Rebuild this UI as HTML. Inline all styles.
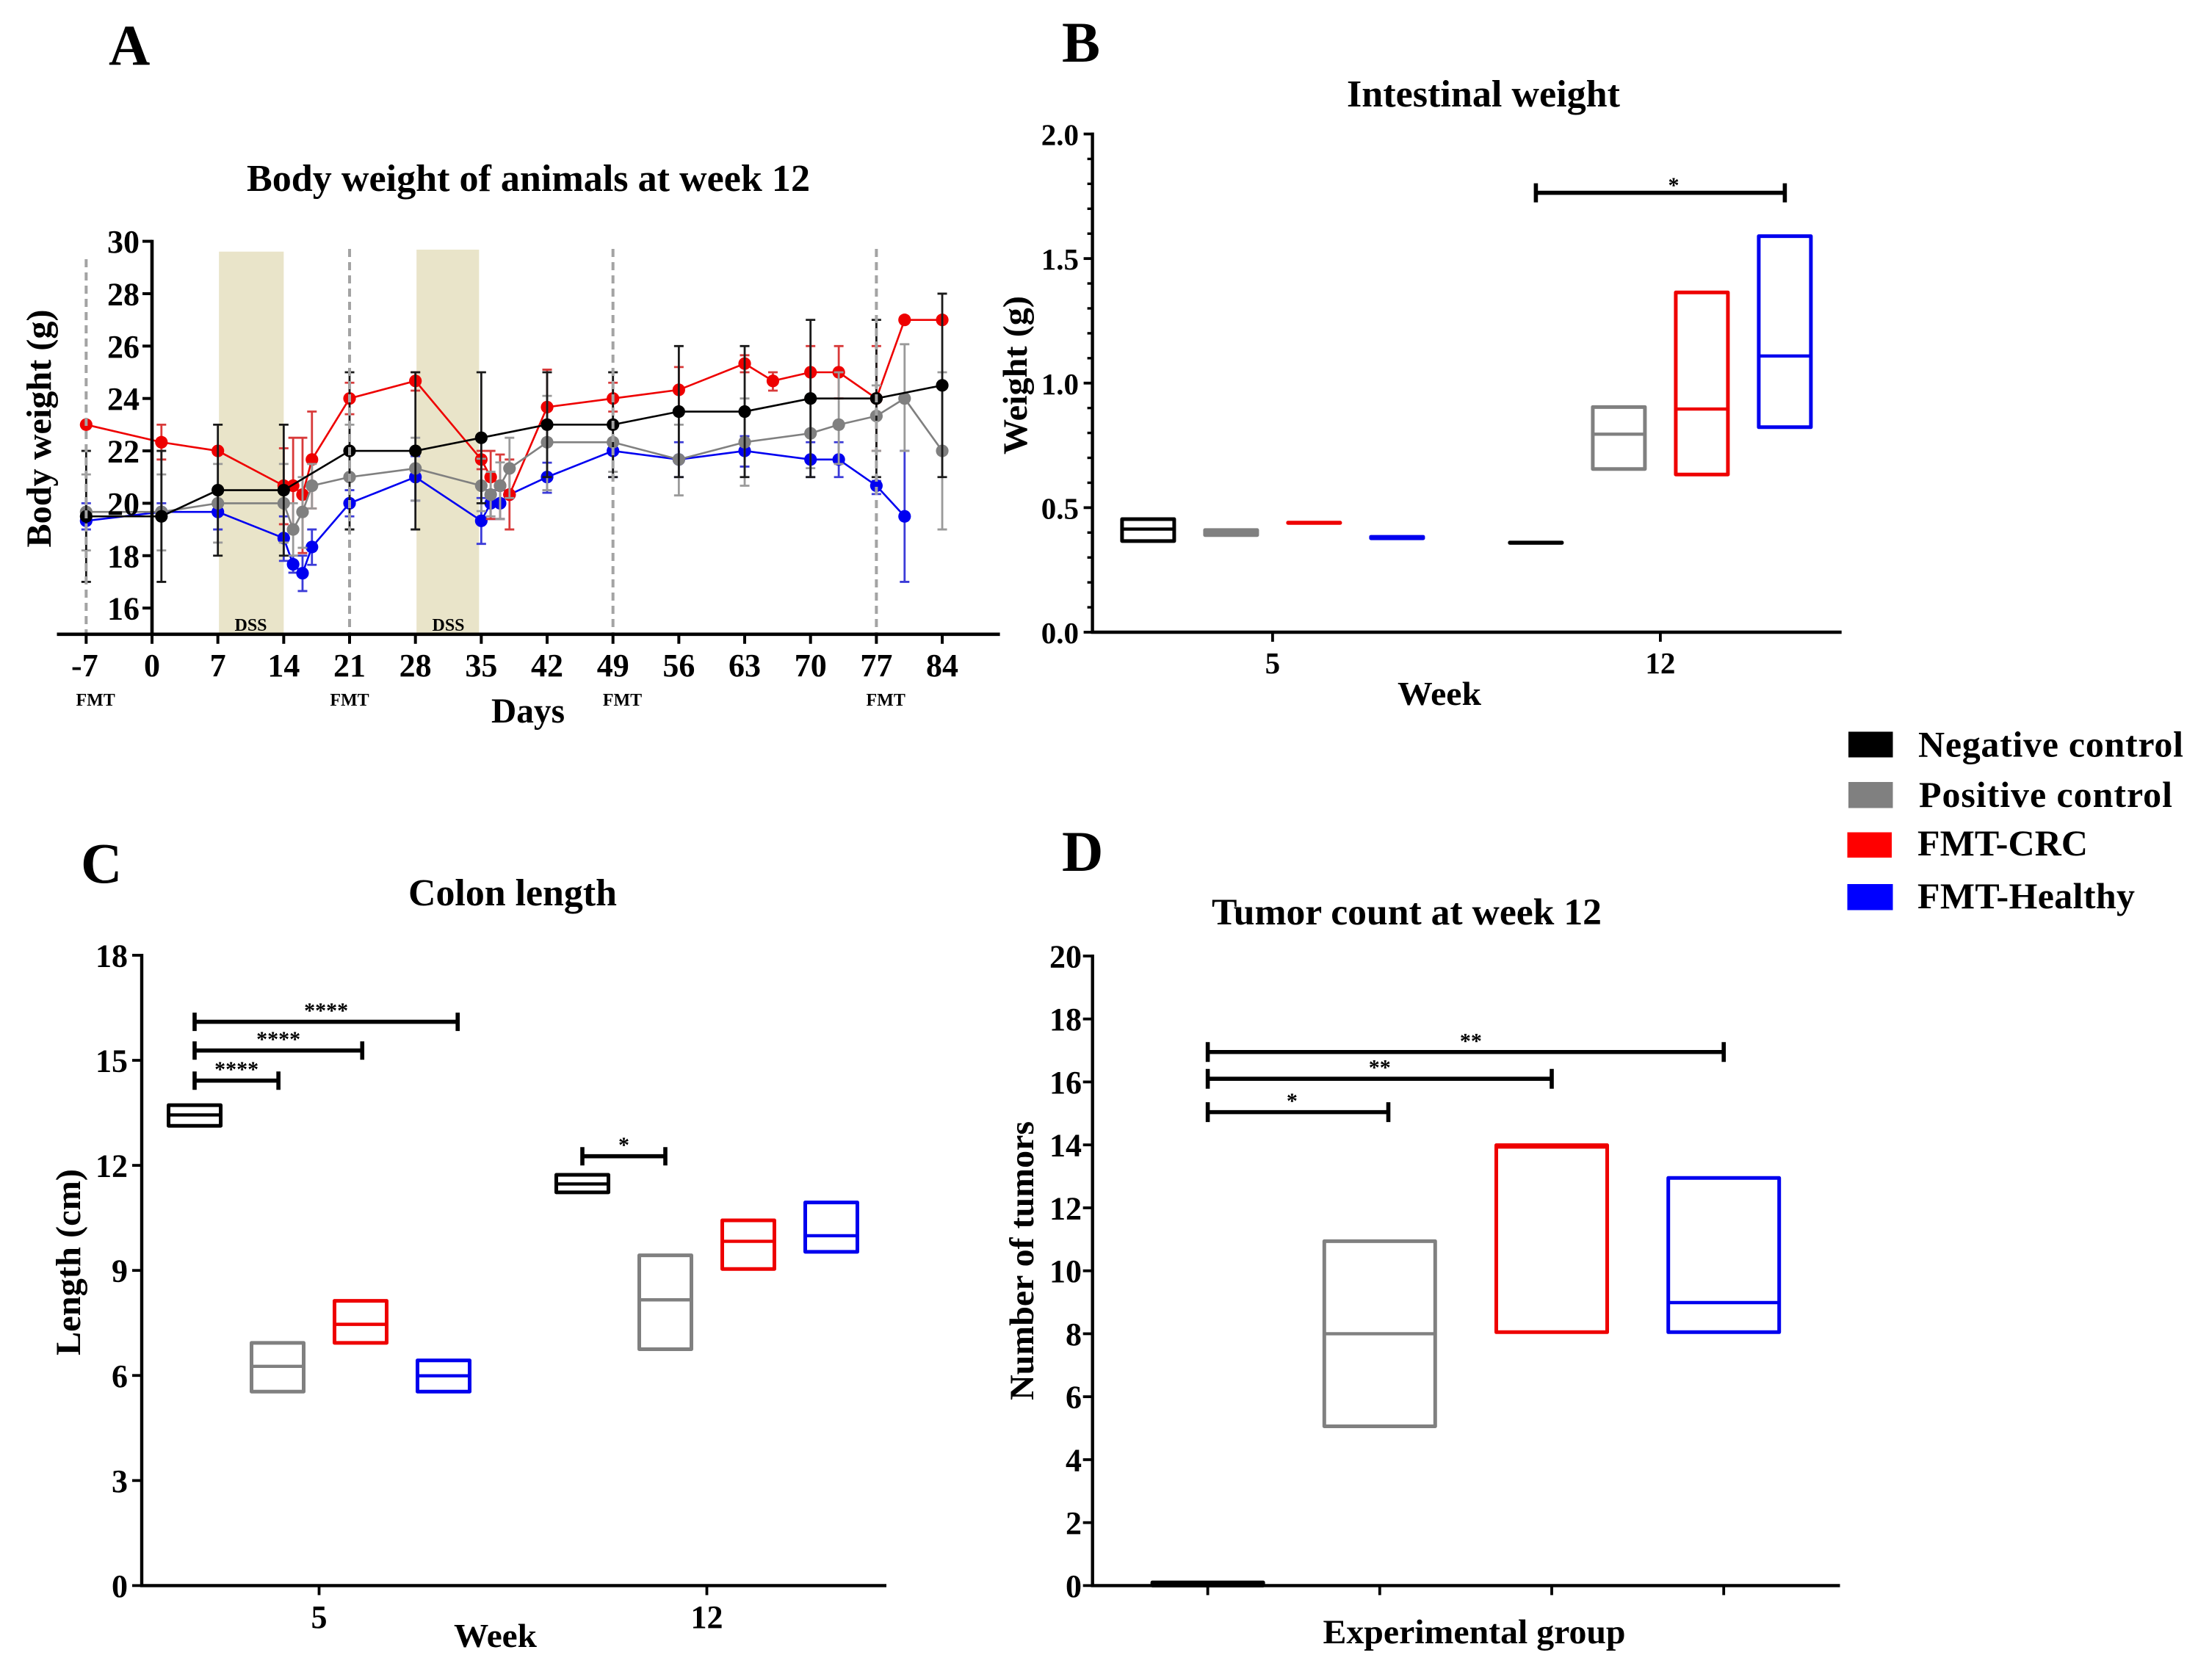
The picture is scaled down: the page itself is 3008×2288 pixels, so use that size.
<!DOCTYPE html>
<html lang="en">
<head>
<meta charset="utf-8">
<title>Body weight, intestinal weight, colon length and tumor count</title>
<style>
html,body{margin:0;padding:0;background:#fff;}
svg{display:block;font-family:"Liberation Serif","Times New Roman",serif;font-weight:bold;fill:#000;}
</style>
</head>
<body>
<svg id="figure" xmlns="http://www.w3.org/2000/svg" width="3008" height="2288" viewBox="0 0 3008 2288">
  <rect x="0" y="0" width="3008" height="2288" fill="#ffffff"/>

  <text x="148" y="88" font-size="78">A</text>
  <text x="1446" y="84" font-size="78">B</text>
  <text x="110" y="1202" font-size="78">C</text>
  <text x="1446" y="1186" font-size="78">D</text>

  <text x="336" y="260" font-size="52" textLength="767" lengthAdjust="spacingAndGlyphs">Body weight of animals at week 12</text>
  <text x="1834" y="145" font-size="52" textLength="372" lengthAdjust="spacingAndGlyphs">Intestinal weight</text>
  <text x="556" y="1233" font-size="52" textLength="284" lengthAdjust="spacingAndGlyphs">Colon length</text>
  <text x="1650" y="1259" font-size="51" textLength="531" lengthAdjust="spacingAndGlyphs">Tumor count at week 12</text>

  <g id="panel-a"></g>
  <g id="panel-b"></g>
  <g id="panel-c"></g>
  <g id="panel-d"></g>

  <text transform="translate(69,583.5) rotate(-90)" text-anchor="middle" font-size="48" textLength="324" lengthAdjust="spacingAndGlyphs">Body weight (g)</text>
  <text x="669" y="984" font-size="48" textLength="100" lengthAdjust="spacingAndGlyphs">Days</text>

  <text transform="translate(1398,511) rotate(-90)" text-anchor="middle" font-size="47" textLength="216" lengthAdjust="spacingAndGlyphs">Weight (g)</text>
  <text x="1903" y="960" font-size="46" textLength="114" lengthAdjust="spacingAndGlyphs">Week</text>

  <text transform="translate(109,1719) rotate(-90)" text-anchor="middle" font-size="48" textLength="254" lengthAdjust="spacingAndGlyphs">Length (cm)</text>
  <text x="618" y="2243" font-size="46" textLength="113" lengthAdjust="spacingAndGlyphs">Week</text>

  <text transform="translate(1407,1717) rotate(-90)" text-anchor="middle" font-size="47" textLength="380" lengthAdjust="spacingAndGlyphs">Number of tumors</text>
  <text x="1801.5" y="2238" font-size="47" textLength="412" lengthAdjust="spacingAndGlyphs">Experimental group</text>

  <g>
    <g>
      <rect x="2517" y="996.5" width="60.5" height="35" fill="#000000"/>
      <text x="2612" y="1030.5" font-size="50" textLength="361" lengthAdjust="spacing">Negative control</text>
    </g>
    <g>
      <rect x="2517" y="1065" width="60.5" height="35.5" fill="#808080"/>
      <text x="2613" y="1099" font-size="50" textLength="345" lengthAdjust="spacing">Positive control</text>
    </g>
    <g>
      <rect x="2515.5" y="1133.5" width="60.5" height="34.5" fill="#ff0000"/>
      <text x="2611" y="1165" font-size="50" textLength="232" lengthAdjust="spacing">FMT-CRC</text>
    </g>
    <g>
      <rect x="2515.5" y="1204" width="62" height="35.5" fill="#0000ff"/>
      <text x="2611" y="1237" font-size="50" textLength="296" lengthAdjust="spacing">FMT-Healthy</text>
    </g>
  </g>
</svg>

<script>
/* ---------- Panel A data ---------- */
const aXTicks = [-7, 0, 7, 14, 21, 28, 35, 42, 49, 56, 63, 70, 77, 84];
const aYTicks = [16, 18, 20, 22, 24, 26, 28, 30];
const aFmtDays = [-7, 21, 49, 77];
const aFmtLabelDays = [-6, 21, 50, 78];
const aDssStart = [7, 28];
const aDssEnd = [14, 35];

const healthyDays = [-7, 1, 7, 14, 15, 16, 17, 21, 28, 35, 36, 37, 38, 42, 49, 56, 63, 70, 73, 77, 80];
const healthyMean = [19.33, 19.67, 19.67, 18.67, 17.67, 17.33, 18.33, 20, 21, 19.33, 20, 20, 20.33, 21, 22, 21.67, 22, 21.67, 21.67, 20.67, 19.5];
const healthyLow  = [19, 19.4, 19, 17.8, 17.35, 16.65, 17.65, 19.5, 20.1, 18.45, 19.4, 19.4, 20.33, 20.4, 21, 21, 21.4, 21, 21, 20.35, 17];
const healthyHigh = [20, 20, 20, 19.5, 18, 18, 19, 20.5, 21.8, 20.2, 20.5, 20.5, 20.33, 21.55, 22.3, 22.33, 22.56, 22.33, 22.33, 20.85, 22];

const crcDays = [-7, 1, 7, 14, 15, 16, 17, 21, 28, 35, 36, 37, 38, 42, 49, 56, 63, 66, 70, 73, 77, 80, 84];
const crcMean = [23, 22.33, 22, 20.67, 20.67, 20.33, 21.67, 24, 24.67, 21.67, 21, 20.67, 20.33, 23.67, 24, 24.33, 25.33, 24.67, 25, 25, 24, 27, 27];
const crcLow  = [23, 21.67, 22, 19.2, 19, 18.1, 19.8, 23.4, 24.3, 21.3, 19.4, 19.4, 19, 22.3, 23.5, 23.5, 25, 24.3, 24, 24, 22, 27, 27];
const crcHigh = [23, 23, 22, 22.1, 22.5, 22.5, 23.5, 24.6, 25, 22, 22, 21.86, 21.67, 25.1, 24.6, 25.2, 25.65, 25, 26, 26, 26, 27, 27];

const posDays = [-7, 1, 7, 14, 15, 16, 17, 21, 28, 35, 36, 37, 38, 42, 49, 56, 63, 70, 73, 77, 80, 84];
const posMean = [19.67, 19.67, 20, 20, 19, 19.67, 20.67, 21, 21.33, 20.67, 20.33, 20.67, 21.33, 22.33, 22.33, 21.67, 22.33, 22.67, 23, 23.33, 24, 22];
const posLow  = [18.2, 18.2, 18.5, 18.5, 18, 18.3, 19.8, 19, 20.1, 19.7, 19.5, 19.4, 20.2, 20.5, 21.2, 20.3, 20.67, 21.34, 21.5, 22, 22, 19];
const posHigh = [21.1, 21.1, 21.5, 21.5, 20, 21, 21.5, 23, 22.5, 21.7, 21.2, 21.56, 22.5, 24.1, 25, 23, 24, 24, 25, 24.5, 26.07, 25];

const negDays = [-7, 1, 7, 14, 21, 28, 35, 42, 49, 56, 63, 70, 77, 84];
const negMean = [19.5, 19.5, 20.5, 20.5, 22, 22, 22.5, 23, 23, 23.5, 23.5, 24, 24, 24.5];
const negLow  = [17, 17, 18, 18, 19, 19, 20, 21, 21, 21, 21, 21, 21, 21];
const negHigh = [22, 22, 23, 23, 25, 25, 25, 25, 25, 26, 26, 27, 27, 28];

/* ---------- Panel B data ---------- */
const bYTicks = ['0.0', '0.5', '1.0', '1.5', '2.0'];
const bXTicks = ['5', '12'];
const bTop = [0.454, 0.41, 0.44, 0.383, 0.36, 0.904, 1.364, 1.59];
const bMid = [0.414, 0.40, 0.44, 0.38, 0.36, 0.795, 0.896, 1.109];
const bBottom = [0.366, 0.39, 0.44, 0.377, 0.36, 0.655, 0.633, 0.823];
const bBracketFrom = [4];
const bBracketTo = [7];
const bBracketValue = [1.764];
const bBracketStars = ['*'];
const bBracketStarAt = [5.66];

/* ---------- Panel C data ---------- */
const cYTicks = ['0', '3', '6', '9', '12', '15', '18'];
const cXTicks = ['5', '12'];
const cTop = [13.72, 6.93, 8.13, 6.43, 11.73, 9.43, 10.43, 10.94];
const cMid = [13.44, 6.26, 7.46, 5.99, 11.47, 8.16, 9.83, 9.99];
const cBottom = [13.13, 5.54, 6.93, 5.54, 11.23, 6.75, 9.04, 9.53];
const cBracketFrom = [0, 0, 0, 4];
const cBracketTo = [3.17, 2.02, 1.01, 5];
const cBracketValue = [16.1, 15.28, 14.42, 12.26];
const cBracketStars = ['****', '****', '****', '*'];
const cBracketStarAt = [1.585, 1.01, 0.505, 4.5];

/* ---------- Panel D data ---------- */
const dYTicks = ['0', '2', '4', '6', '8', '10', '12', '14', '16', '18', '20'];
const dTop = [0.1, 10.94, 13.99, 12.95];
const dMid = [0, 8, 13.93, 8.99];
const dBottom = [0, 5.06, 8.05, 8.05];
const dBracketFrom = [0, 0, 0];
const dBracketTo = [3, 2, 1.05];
const dBracketValue = [16.95, 16.1, 15.04];
const dBracketStars = ['**', '**', '*'];
const dBracketStarAt = [1.53, 1, 0.49];

/* ---------- Shared ---------- */
const groupColors = ['#000000', '#808080', '#ee0000', '#0000ee'];
const groupNames = ['negative-control', 'positive-control', 'fmt-crc', 'fmt-healthy'];
const NS = 'http://www.w3.org/2000/svg';

function mk(parent, tag, props) {
  const el = document.createElementNS(NS, tag);
  for (const k in props) el.setAttribute(k, props[k]);
  parent.appendChild(el);
  return el;
}
function line(parent, x1, y1, x2, y2, color, w) {
  return mk(parent, 'line', {x1: x1, y1: y1, x2: x2, y2: y2, stroke: color, 'stroke-width': w});
}
function label(parent, x, y, str, size, anchor) {
  const t = mk(parent, 'text', {x: x, y: y, 'font-size': size, 'text-anchor': anchor});
  t.textContent = str;
  return t;
}

/* ---------- Panel A ---------- */
const pa = document.getElementById('panel-a');
const xA = d => 207 + 12.81 * d;
const yA = v => 863.8 - 35.68 * (v - 15);

aDssStart.forEach((s, i) => {
  const band = mk(pa, 'rect', {x: xA(s) + 1.5, y: i === 0 ? 342.7 : 340, width: xA(aDssEnd[i]) - xA(s) - (i === 0 ? 1.5 : 4.5), height: i === 0 ? 519.7 : 522.4, fill: '#e9e4c9'});
  
  
  const dss = label(pa, (xA(s) + xA(aDssEnd[i])) / 2, 859, 'DSS', 24, 'middle');
  
  
});

function drawSeries(name, color, errColor, days, mean, low, high) {
  const g = mk(pa, 'g', {});
  
  
  days.forEach((d, i) => {
    if (low[i] === high[i]) return;
    const x = xA(d);
    const bar = mk(g, 'path', {
      d: 'M' + (x - 6.5) + ' ' + yA(high[i]) + 'H' + (x + 6.5) + 'M' + x + ' ' + yA(high[i]) + 'V' + yA(low[i]) + 'M' + (x - 6.5) + ' ' + yA(low[i]) + 'H' + (x + 6.5),
      fill: 'none', stroke: errColor, 'stroke-width': 2.8
    });
    
    
  });
  const pts = days.map((d, i) => xA(d) + ',' + yA(mean[i])).join(' ');
  const pl = mk(g, 'polyline', {points: pts, fill: 'none', stroke: color, 'stroke-width': 2.6});
  
  
  days.forEach((d, i) => {
    const c = mk(g, 'circle', {cx: xA(d), cy: yA(mean[i]), r: 8.6, fill: color});
    
    
  });
}
drawSeries('fmt-healthy', '#0000f0', '#3b3bd8', healthyDays, healthyMean, healthyLow, healthyHigh);
drawSeries('fmt-crc', '#ee0000', '#d83a3a', crcDays, crcMean, crcLow, crcHigh);
drawSeries('positive-control', '#808080', '#9a9a9a', posDays, posMean, posLow, posHigh);
drawSeries('negative-control', '#000000', '#1a1a1a', negDays, negMean, negLow, negHigh);

aFmtDays.forEach((d, i) => {
  const dash = line(pa, xA(d), i === 0 ? 353 : 339, xA(d), 862, '#a3a3a3', 4);
  dash.setAttribute('stroke-dasharray', '11 7');
  
  
  const fmt = label(pa, xA(aFmtLabelDays[i]), 961, 'FMT', 24, 'middle');
  
  
});

const aXAxis = line(pa, 77.5, yA(15), 1361.6, yA(15), '#000', 4.6);


const aYAxis = line(pa, xA(0), yA(30) - 2, xA(0), yA(15), '#000', 4.6);


aXTicks.forEach(d => {
  const t = line(pa, xA(d), yA(15), xA(d), yA(15) + 13, '#000', 4);
  
  
  const l = label(pa, d === -7 ? xA(d) - 2 : xA(d), 921, String(d), 44, 'middle');
  
  
});
aYTicks.forEach(v => {
  const t = line(pa, xA(0) - 13, yA(v), xA(0), yA(v), '#000', 4);
  
  
  const l = label(pa, 190, yA(v) + 15.5, String(v), 44, 'end');
  
  
});

/* ---------- Floating-box panels ---------- */
function drawBoxes(parent, prefix, xf, yf, halfW, top, mid, bottom, colorAt, nameAt) {
  top.forEach((v, i) => {
    const g = mk(parent, 'g', {});
    
    
    const r = mk(g, 'rect', {
      x: xf(i) - halfW, y: yf(top[i]), width: halfW * 2, height: Math.max(yf(bottom[i]) - yf(top[i]), 0.5),
      fill: 'none', stroke: colorAt(i), 'stroke-width': 5, 'stroke-linejoin': 'round'
    });
    
    
    const m = line(g, xf(i) - halfW, yf(mid[i]), xf(i) + halfW, yf(mid[i]), colorAt(i), 4.4);
    
    
  });
}
function drawBrackets(parent, prefix, xf, yf, capHalf, starGap, from, to, value, stars, starAt) {
  from.forEach((f, i) => {
    const y = yf(value[i]);
    const b = mk(parent, 'path', {
      d: 'M' + xf(f) + ' ' + (y - capHalf) + 'V' + (y + capHalf) + 'M' + xf(f) + ' ' + y + 'H' + xf(to[i]) + 'M' + xf(to[i]) + ' ' + (y - capHalf) + 'V' + (y + capHalf),
      fill: 'none', stroke: '#000', 'stroke-width': 5.6
    });
    
    
    const s = label(parent, xf(starAt[i]), y - starGap + 13, stars[i], 30, 'middle');
    
    
  });
}
function drawFrame(parent, prefix, axisX, endX, y0, yTop) {
  const xa = line(parent, axisX - 2, y0, endX, y0, '#000', 4.4);
  
  
  const ya = line(parent, axisX, yTop - 2, axisX, y0 + 2, '#000', 4.4);
  
  
}

/* Panel B */
const pb = document.getElementById('panel-b');
const xB = p => 1563.4 + 113 * p + (p >= 3.5 ? 76 : 0);
const yB = v => 861 - 339.25 * v;
drawFrame(pb, 'panel-b', 1487.6, 2507.7, yB(0), yB(2));
bYTicks.forEach(t => {
  const v = Number(t);
  const tk = line(pb, 1487.6 - 12, yB(v), 1487.6, yB(v), '#000', 3.8);
  
  
  const l = label(pb, 1469, yB(v) + 15, t, 41, 'end');
  
  
});
for (let k = 1; k < 20; k++) {
  if (k % 5 === 0) continue;
  const mt = line(pb, 1487.6 - 7, yB(k / 10), 1487.6, yB(k / 10), '#000', 3.4);
  
  
}
bXTicks.forEach((t, i) => {
  const x = xB(i === 0 ? 1.5 : 5.5);
  const tk = line(pb, x, yB(0), x, yB(0) + 13, '#000', 3.8);
  
  
  const l = label(pb, x, 917, t, 41, 'middle');
  
  
});
drawBoxes(pb, 'panel-b', xB, yB, 35.5, bTop, bMid, bBottom, i => groupColors[i % 4], i => groupNames[i % 4]);
drawBrackets(pb, 'panel-b', xB, yB, 13, 13.5, bBracketFrom, bBracketTo, bBracketValue, bBracketStars, bBracketStarAt);

/* Panel C */
const pc = document.getElementById('panel-c');
const xC = p => 265 + 113 * p + (p >= 3.5 ? 76 : 0);
const yC = v => 2159.4 - 47.69 * v;
drawFrame(pc, 'panel-c', 193, 1207, yC(0), yC(18));
cYTicks.forEach(t => {
  const v = Number(t);
  const tk = line(pc, 193 - 13, yC(v), 193, yC(v), '#000', 3.8);
  
  
  const l = label(pc, 174, yC(v) + 15.5, t, 44, 'end');
  
  
});
cXTicks.forEach((t, i) => {
  const x = xC(i === 0 ? 1.5 : 5.5);
  const tk = line(pc, x, yC(0), x, yC(0) + 13, '#000', 3.8);
  
  
  const l = label(pc, x, 2217, t, 44, 'middle');
  
  
});
drawBoxes(pc, 'panel-c', xC, yC, 35.5, cTop, cMid, cBottom, i => groupColors[i % 4], i => groupNames[i % 4]);
drawBrackets(pc, 'panel-c', xC, yC, 12.5, 18.5, cBracketFrom, cBracketTo, cBracketValue, cBracketStars, cBracketStarAt);

/* Panel D */
const pd = document.getElementById('panel-d');
const xD = p => 1644.6 + 234.2 * p;
const yD = v => 2159.4 - 42.87 * v;
drawFrame(pd, 'panel-d', 1487.7, 2505.5, yD(0), yD(20));
dYTicks.forEach(t => {
  const v = Number(t);
  const tk = line(pd, 1487.7 - 13, yD(v), 1487.7, yD(v), '#000', 3.8);
  
  
  const l = label(pd, 1473, yD(v) + 15.5, t, 44, 'end');
  
  
});
groupNames.forEach((n, i) => {
  const tk = line(pd, xD(i), yD(0), xD(i), yD(0) + 13, '#000', 3.8);
  
  
});
drawBoxes(pd, 'panel-d', xD, yD, 75.5, dTop, dMid, dBottom, i => groupColors[i], i => groupNames[i]);
drawBrackets(pd, 'panel-d', xD, yD, 13.5, 18.5, dBracketFrom, dBracketTo, dBracketValue, dBracketStars, dBracketStarAt);
</script>
</body>
</html>
